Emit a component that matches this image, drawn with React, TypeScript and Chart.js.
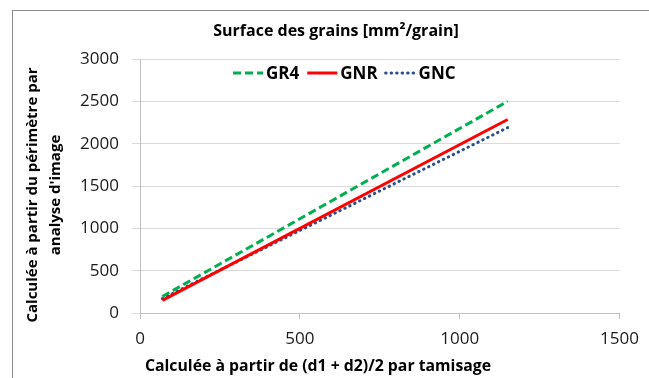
import React, { useEffect, useRef } from "react";
import { Chart, registerables } from "chart.js";

Chart.register(...registerables);

const titleText = "Surface des grains [mm²/grain]";
const xTitle = "Calculée à partir de (d1 + d2)/2 par tamisage";
const yTitleLines = ["Calculée à partir du périmètre par", "analyse d'image"];

const seriesLabels = ["GR4", "GNR", "GNC"];
const xValues = [70, 1150];
const gr4Values = [195, 2500];
const gnrValues = [150, 2285];
const gncValues = [170, 2190];

const xTicks = [0, 500, 1000, 1500];
const yTicks = [0, 500, 1000, 1500, 2000, 2500, 3000];

const FONT = "'Open Sans', sans-serif";

const insideLegend = {
  id: "insideLegend",
  afterDraw(chart: any) {
    const { ctx, chartArea } = chart;
    let x = chartArea.left + 93;
    const y = chartArea.top + 14;
    ctx.save();
    ctx.font = "bold 17px 'Open Sans'";
    ctx.textBaseline = "middle";
    chart.data.datasets.forEach((ds: any) => {
      ctx.strokeStyle = ds.borderColor;
      ctx.lineWidth = ds.borderWidth;
      ctx.lineCap = ds.borderCapStyle || "butt";
      ctx.setLineDash(ds.borderDash || []);
      ctx.beginPath();
      ctx.moveTo(x, y);
      ctx.lineTo(x + 30, y);
      ctx.stroke();
      ctx.setLineDash([]);
      ctx.fillStyle = "#000";
      ctx.fillText(ds.label, x + 33, y + 1);
      x += 33 + ctx.measureText(ds.label).width + 8;
    });
    ctx.restore();
  },
};

export default function App() {
  const canvasRef = useRef<HTMLCanvasElement | null>(null);

  useEffect(() => {
    const canvas = canvasRef.current;
    if (!canvas) return;
    const toPts = (ys: number[]) => xValues.map((x, i) => ({ x, y: ys[i] }));
    const chart = new Chart(canvas, {
      type: "scatter",
      data: {
        datasets: [
          {
            label: seriesLabels[0],
            data: toPts(gr4Values),
            showLine: true,
            borderColor: "#00B050",
            backgroundColor: "#00B050",
            borderWidth: 3,
            borderDash: [8, 4],
            pointRadius: 0,
          },
          {
            label: seriesLabels[1],
            data: toPts(gnrValues),
            showLine: true,
            borderColor: "#FF0000",
            backgroundColor: "#FF0000",
            borderWidth: 3,
            pointRadius: 0,
          },
          {
            label: seriesLabels[2],
            data: toPts(gncValues),
            showLine: true,
            borderColor: "#2B4F8E",
            backgroundColor: "#2B4F8E",
            borderWidth: 3,
            borderDash: [0.5, 5],
            borderCapStyle: "round",
            pointRadius: 0,
          },
        ] as any,
      },
      options: {
        animation: false,
        responsive: false,
        maintainAspectRatio: false,
        layout: { padding: { left: 80, right: 29, top: 59, bottom: 25 } },
        plugins: {
          legend: { display: false },
          title: { display: false },
          tooltip: { enabled: false },
        },
        scales: {
          x: {
            type: "linear",
            min: 0,
            max: 1500,
            afterFit: (s: any) => {
              s.height = 40;
            },
            afterBuildTicks: (s: any) => {
              s.ticks = xTicks.map((v) => ({ value: v }));
            },
            ticks: {
              font: { family: FONT, size: 17 },
              color: "#1a1a1a",
              padding: 10,
              maxRotation: 0,
              callback: (v: any) => String(v),
            },
            grid: {
              drawOnChartArea: false,
              drawTicks: true,
              tickLength: 6,
              color: "#bfbfbf",
            },
            border: { color: "#bfbfbf", width: 1 },
          },
          y: {
            type: "linear",
            min: 0,
            max: 3000,
            afterFit: (s: any) => {
              s.width = 60;
            },
            afterBuildTicks: (s: any) => {
              s.ticks = yTicks.map((v) => ({ value: v }));
            },
            ticks: {
              font: { family: FONT, size: 17 },
              color: "#1a1a1a",
              padding: 13,
              callback: (v: any) => String(v),
            },
            grid: {
              color: "#d9d9d9",
              drawTicks: true,
              tickLength: 8,
            },
            border: { color: "#bfbfbf", width: 1 },
          },
        },
      },
      plugins: [insideLegend],
    });
    return () => chart.destroy();
  }, []);

  return (
    <div
      style={{
        position: "fixed",
        left: 0,
        top: 0,
        width: 649,
        height: 378,
        overflow: "hidden",
        background: "#fff",
        fontFamily: FONT,
      }}
    >
      <div
        style={{
          position: "absolute",
          left: 12,
          top: 10,
          width: 700,
          height: 400,
          borderLeft: "1px solid #8c8c8c",
          borderTop: "1px solid #8c8c8c",
        }}
      />
      <canvas
        ref={canvasRef}
        width={649}
        height={378}
        style={{ position: "absolute", left: 0, top: 0, width: 649, height: 378 }}
      />
      <div
        style={{
          position: "absolute",
          left: 136,
          top: 18,
          width: 400,
          textAlign: "center",
          fontWeight: 700,
          fontSize: 16,
          lineHeight: "24px",
          color: "#000",
          whiteSpace: "nowrap",
        }}
      >
        {titleText}
      </div>
      <div
        style={{
          position: "absolute",
          left: 118,
          top: 353,
          width: 400,
          textAlign: "center",
          fontWeight: 700,
          fontSize: 15.8,
          lineHeight: "24px",
          color: "#000",
          whiteSpace: "nowrap",
        }}
      >
        {xTitle}
      </div>
      <div
        style={{
          position: "absolute",
          left: 43 - 150,
          top: 195 - 23,
          width: 300,
          height: 46,
          transform: "rotate(-90deg)",
          transformOrigin: "50% 50%",
          textAlign: "center",
          fontWeight: 700,
          fontSize: 15,
          lineHeight: "23px",
          color: "#000",
          whiteSpace: "nowrap",
        }}
      >
        {yTitleLines.map((l, i) => (
          <div key={i}>{l}</div>
        ))}
      </div>
    </div>
  );
}
